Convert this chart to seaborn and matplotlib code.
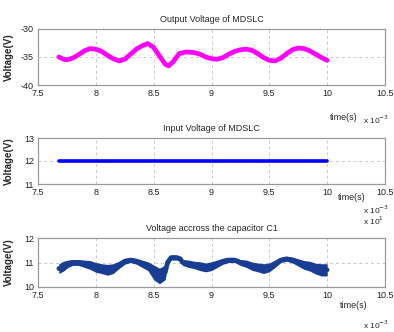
import numpy as np
import pandas as pd
import matplotlib
matplotlib.use("Agg")
import matplotlib.pyplot as plt
import seaborn as sns

# ---- data ----
t_out = [7.68, 7.72, 7.75, 7.80, 7.85, 7.90, 7.95, 8.00, 8.05, 8.10, 8.15, 8.20, 8.25,
         8.30, 8.35, 8.40, 8.45, 8.50, 8.55, 8.60, 8.63, 8.67, 8.72, 8.78, 8.85, 8.90,
         8.95, 9.00, 9.05, 9.10, 9.15, 9.20, 9.25, 9.30, 9.35, 9.40, 9.45, 9.50, 9.55,
         9.60, 9.65, 9.70, 9.75, 9.80, 9.85, 9.90, 9.95, 10.00]
v_out = [-35.0, -35.4, -35.5, -35.2, -34.6, -33.9, -33.5, -33.6, -34.0, -34.7, -35.3, -35.7, -35.4,
         -34.5, -33.6, -33.0, -32.6, -33.3, -34.8, -36.3, -36.6, -35.8, -34.4, -34.1, -34.2, -34.5,
         -35.0, -35.3, -35.4, -35.1, -34.5, -34.0, -33.7, -33.6, -33.8, -34.4, -35.1, -35.6, -35.7,
         -35.2, -34.4, -33.7, -33.4, -33.5, -33.9, -34.5, -35.1, -35.6]

t_in = [7.68, 10.00]
v_in = [12.0, 12.0]

t_cap = [7.68, 7.72, 7.76, 7.80, 7.85, 7.90, 7.95, 8.00, 8.05, 8.10, 8.15, 8.20, 8.25, 8.30,
         8.35, 8.40, 8.45, 8.50, 8.55, 8.60, 8.62, 8.65, 8.70, 8.73, 8.75, 8.80, 8.85, 8.90,
         8.95, 9.00, 9.05, 9.10, 9.15, 9.20, 9.25, 9.30, 9.35, 9.40, 9.45, 9.50, 9.55, 9.60,
         9.65, 9.70, 9.75, 9.80, 9.85, 9.90, 9.95, 10.00]
v_cap_mid = [10.75, 10.85, 10.95, 11.0, 11.0, 10.95, 10.9, 10.8, 10.75, 10.7, 10.75, 10.9, 11.05, 11.1,
             11.05, 10.95, 10.85, 10.6, 10.45, 10.6, 11.0, 11.2, 11.2, 11.15, 11.0, 10.95, 10.9, 10.85,
             10.8, 10.85, 10.95, 11.05, 11.1, 11.1, 11.0, 10.95, 10.85, 10.8, 10.75, 10.8, 10.95, 11.1,
             11.15, 11.1, 11.0, 10.9, 10.85, 10.75, 10.7, 10.7]
v_cap_half = [0.2, 0.2, 0.15, 0.12, 0.12, 0.15, 0.18, 0.2, 0.2, 0.22, 0.2, 0.15, 0.12, 0.1,
              0.12, 0.15, 0.18, 0.3, 0.32, 0.3, 0.15, 0.1, 0.1, 0.1, 0.12, 0.15, 0.15, 0.18,
              0.18, 0.18, 0.15, 0.12, 0.1, 0.1, 0.12, 0.15, 0.17, 0.18, 0.2, 0.18, 0.15, 0.1,
              0.1, 0.12, 0.15, 0.18, 0.2, 0.22, 0.25, 0.25]

x_ticks = [7.5, 8, 8.5, 9, 9.5, 10, 10.5]
x_ticklabels = ["7.5", "8", "8.5", "9", "9.5", "10", "10.5"]
titles = ["Output Voltage of MDSLC", "Input Voltage of MDSLC", "Voltage accross the capacitor C1"]
yticks_list = [[-40, -35, -30], [11, 12, 13], [10, 11, 12]]

sns.set_style("white")
plt.rcParams['font.family'] = ['Liberation Sans Narrow', 'Liberation Sans', 'DejaVu Sans']

W, H = 394, 332
fig = plt.figure(figsize=(W / 100, H / 100), dpi=100)
LEFT, RIGHT = 38, 385

def rect(top, bottom, left=LEFT, right=RIGHT):
    return [left / W, (H - bottom) / H, (right - left) / W, (bottom - top) / H]

axes = [fig.add_axes(rect(29, 85)), fig.add_axes(rect(138, 184)), fig.add_axes(rect(238, 287))]

df_out = pd.DataFrame({"t": t_out, "v": v_out})
sns.lineplot(data=df_out, x="t", y="v", ax=axes[0], color="#ff00ff", linewidth=3.4, sort=False)

df_in = pd.DataFrame({"t": t_in, "v": v_in})
sns.lineplot(data=df_in, x="t", y="v", ax=axes[1], color="#0000ff", linewidth=2.6)

mid = np.array(v_cap_mid)
half = np.array(v_cap_half)
axes[2].fill_between(t_cap, mid - half, mid + half, color="#1a3d94", linewidth=0)
df_cap = pd.DataFrame({"t": t_cap, "v": v_cap_mid})
sns.lineplot(data=df_cap, x="t", y="v", ax=axes[2], color="#1a3d94", linewidth=3.4)

for ax, title, yt in zip(axes, titles, yticks_list):
    ax.set_xlim(7.5, 10.5)
    ax.set_ylim(yt[0], yt[-1])
    ax.set_xticks(x_ticks)
    ax.set_xticklabels(x_ticklabels)
    ax.set_yticks(yt)
    ax.set_yticklabels([str(v) for v in yt])
    ax.tick_params(axis='both', direction='in', length=2, labelsize=6.5, pad=3,
                   colors='#222222')
    ax.grid(True, linestyle=(0, (3, 3)), color='#c8c8c8', linewidth=0.7)
    for s in ax.spines.values():
        s.set_color('#9a9a9a')
        s.set_linewidth(0.9)
    ax.set_xlabel("")
    ax.set_ylabel("Voltage(V)", fontsize=7, fontweight='bold')
    ax.yaxis.set_label_coords(-(LEFT - 14) / (RIGHT - LEFT), 0.5)
    ax.set_title(title, fontsize=6.5, pad=5)

# time labels and multipliers
def ftext(x, y, s, **kw):
    fig.text(x / W, 1 - y / H, s, va='center', ha='left', **kw)

ftext(330, 118, "time(s)", fontsize=6.5)
ftext(363, 120, r"x 10$^{-3}$", fontsize=6)
ftext(338, 198, "time(s)", fontsize=6.5)
ftext(363, 210, r"x 10$^{-3}$", fontsize=6)
ftext(340, 305, "time(s)", fontsize=6.5)
ftext(363, 325, r"x 10$^{-3}$", fontsize=6)
ftext(363, 221, r"x 10$^{1}$", fontsize=6)

fig.savefig("out.png", dpi=100)
